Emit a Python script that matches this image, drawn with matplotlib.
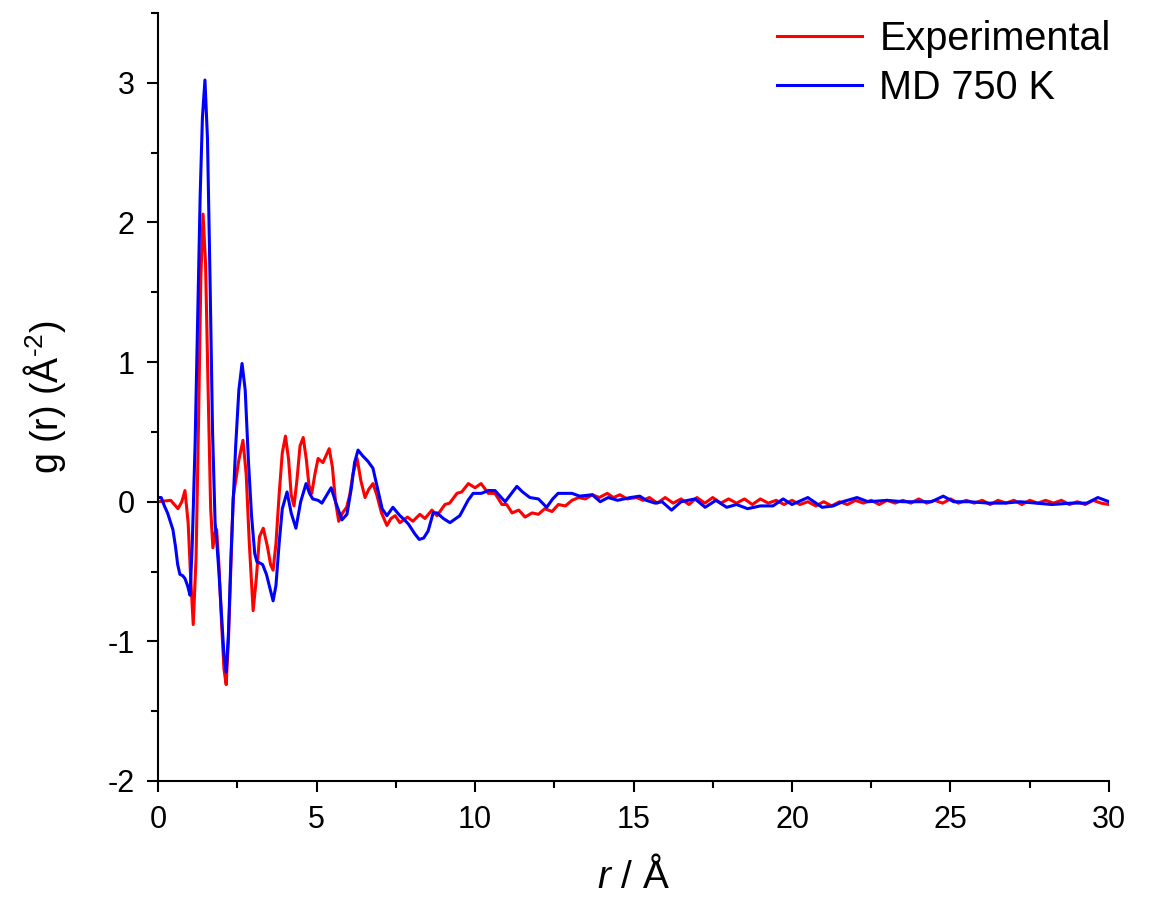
import numpy as np
import matplotlib
matplotlib.use("Agg")
import matplotlib.pyplot as plt
from matplotlib.ticker import MultipleLocator

plt.rcParams['font.family'] = ['Liberation Sans', 'DejaVu Sans']
plt.rcParams['mathtext.fontset'] = 'custom'
plt.rcParams['mathtext.rm'] = 'Liberation Sans'
plt.rcParams['mathtext.it'] = 'Liberation Sans:italic'
plt.rcParams['axes.unicode_minus'] = False

# experimental g(r)
r_exp = [0.0, 0.2, 0.4, 0.63, 0.75, 0.85, 0.95, 1.02, 1.11, 1.2, 1.28, 1.35, 1.42, 1.5,
         1.58, 1.66, 1.73, 1.8, 1.85, 1.92, 2.0, 2.08, 2.15, 2.22, 2.3, 2.37, 2.45, 2.55,
         2.68, 2.78, 2.88, 3.0, 3.1, 3.2, 3.32, 3.45, 3.55, 3.63, 3.72, 3.82, 3.92, 4.02,
         4.12, 4.2, 4.29, 4.38, 4.48, 4.58, 4.68, 4.76, 4.85, 4.95, 5.05, 5.2, 5.4, 5.5,
         5.6, 5.7, 5.82, 5.95, 6.05, 6.15, 6.28, 6.4, 6.53, 6.65, 6.78, 6.9, 7.05, 7.22,
         7.35, 7.48, 7.63, 7.87, 8.04, 8.26, 8.42, 8.64, 8.8, 9.05, 9.2, 9.43, 9.58, 9.79,
         10.0, 10.19, 10.42, 10.63, 10.85, 11.0, 11.17, 11.38, 11.58, 11.8, 12.0, 12.2,
         12.43, 12.63, 12.85, 13.06, 13.27, 13.48, 13.7, 13.92, 14.17, 14.37, 14.57, 14.8,
         15.1, 15.3, 15.5, 15.75, 16.0, 16.25, 16.5, 16.75, 17.0, 17.25, 17.5, 17.75,
         18.0, 18.25, 18.5, 18.75, 19.0, 19.25, 19.5, 19.75, 20.0, 20.25, 20.5, 20.75,
         21.0, 21.25, 21.5, 21.75, 22.0, 22.25, 22.5, 22.75, 23.0, 23.25, 23.5, 23.75,
         24.0, 24.25, 24.5, 24.75, 25.0, 25.25, 25.5, 25.75, 26.0, 26.25, 26.5, 26.75,
         27.0, 27.25, 27.5, 27.75, 28.0, 28.25, 28.5, 28.75, 29.0, 29.25, 29.5, 29.75, 30.0]
g_exp = [0.0, 0.005, 0.01, -0.05, 0.0, 0.08, -0.15, -0.5, -0.88, -0.4, 0.6, 1.6, 2.06, 1.7,
         0.8, -0.05, -0.33, -0.22, -0.2, -0.45, -0.85, -1.2, -1.31, -1.0, -0.45, 0.03, 0.15, 0.3,
         0.44, 0.2, -0.3, -0.78, -0.55, -0.25, -0.19, -0.32, -0.45, -0.49, -0.3, 0.05, 0.35, 0.47,
         0.3, 0.05, -0.03, 0.15, 0.4, 0.46, 0.3, 0.12, 0.06, 0.2, 0.31, 0.28, 0.38, 0.25,
         0.0, -0.14, -0.08, -0.04, 0.05, 0.2, 0.31, 0.15, 0.03, 0.09, 0.13, 0.05, -0.08, -0.17,
         -0.12, -0.1, -0.15, -0.11, -0.14, -0.09, -0.12, -0.06, -0.1, -0.02, -0.01, 0.06, 0.07, 0.13,
         0.1, 0.13, 0.06, 0.06, -0.02, -0.02, -0.08, -0.06, -0.11, -0.08, -0.09, -0.05,
         -0.07, -0.02, -0.03, 0.01, 0.03, 0.02, 0.05, 0.03, 0.06, 0.03, 0.05, 0.02,
         0.03, 0.01, 0.03, -0.01, 0.03, -0.01, 0.02, -0.02, 0.03, -0.01, 0.03, -0.01,
         0.02, -0.01, 0.02, -0.02, 0.02, -0.01, 0.01, -0.02, 0.01, -0.02, 0.0, -0.03,
         0.0, -0.03, 0.0, -0.02, 0.01, -0.01, 0.01, -0.02, 0.01, -0.01, 0.01, -0.01,
         0.02, -0.01, 0.01, -0.01, 0.02, -0.01, 0.01, -0.01, 0.01, -0.02, 0.01, -0.01,
         0.01, -0.02, 0.01, -0.01, 0.01, -0.01, 0.01, -0.02, 0.0, -0.02, 0.01, -0.01, -0.02]

# MD 750 K g(r)
r_md = [0.0, 0.1, 0.2, 0.3, 0.4, 0.47, 0.55, 0.62, 0.69, 0.78, 0.85, 0.93, 1.01, 1.08, 1.17,
        1.25, 1.33, 1.4, 1.48, 1.56, 1.64, 1.72, 1.8, 1.85, 1.92, 2.0, 2.08, 2.15, 2.22, 2.3,
        2.37, 2.45, 2.55, 2.65, 2.75, 2.85, 2.95, 3.05, 3.12, 3.22, 3.3, 3.42, 3.53, 3.63,
        3.72, 3.82, 3.92, 4.07, 4.2, 4.35, 4.5, 4.67, 4.78, 4.88, 5.05, 5.17, 5.3, 5.46, 5.6,
        5.8, 5.96, 6.1, 6.2, 6.31, 6.45, 6.62, 6.78, 6.92, 7.07, 7.22, 7.41, 7.63, 7.73, 7.9,
        8.1, 8.24, 8.38, 8.52, 8.68, 8.8, 9.0, 9.21, 9.52, 9.78, 9.94, 10.2, 10.42, 10.63,
        10.95, 11.15, 11.32, 11.5, 11.73, 12.0, 12.26, 12.45, 12.62, 13.06, 13.3, 13.7, 13.95,
        14.2, 14.5, 14.9, 15.2, 15.4, 15.68, 15.9, 16.2, 16.5, 16.94, 17.26, 17.6, 17.94,
        18.25, 18.6, 19.0, 19.4, 19.72, 20.0, 20.5, 20.95, 21.3, 21.6, 22.05, 22.4, 23.0,
        23.5, 24.0, 24.4, 24.77, 25.1, 25.6, 26.2, 26.7, 27.2, 27.7, 28.2, 28.8, 29.3, 29.65,
        30.0]
g_md = [0.03, 0.03, -0.03, -0.08, -0.15, -0.2, -0.32, -0.45, -0.52, -0.53, -0.55, -0.6, -0.67, -0.3, 0.42,
        1.3, 2.2, 2.75, 3.02, 2.6, 1.6, 0.5, -0.15, -0.28, -0.5, -0.8, -1.1, -1.22, -0.95, -0.4,
        0.0, 0.4, 0.8, 0.99, 0.8, 0.3, -0.1, -0.37, -0.43, -0.44, -0.45, -0.52, -0.62, -0.71,
        -0.6, -0.3, -0.05, 0.07, -0.08, -0.19, 0.0, 0.13, 0.06, 0.02, 0.01, -0.01, 0.04, 0.1, 0.0,
        -0.13, -0.09, 0.1, 0.28, 0.37, 0.33, 0.29, 0.24, 0.1, -0.05, -0.1, -0.04, -0.1, -0.12, -0.16,
        -0.23, -0.27, -0.26, -0.21, -0.08, -0.08, -0.12, -0.15, -0.1, 0.01, 0.06, 0.06, 0.08, 0.08,
        0.0, 0.06, 0.11, 0.07, 0.03, 0.02, -0.04, 0.02, 0.06, 0.06, 0.04, 0.05, 0.0,
        0.03, 0.01, 0.03, 0.04, 0.01, -0.01, 0.0, -0.06, 0.0, 0.02, -0.04, 0.01, -0.04,
        -0.02, -0.05, -0.03, -0.03, 0.02, -0.02, 0.03, -0.04, -0.03, 0.0, 0.03, 0.0, 0.01,
        0.0, 0.0, 0.0, 0.04, 0.0, 0.0, -0.01, -0.01, 0.0, -0.01, -0.02, -0.01, -0.01, 0.03,
        0.0]

fig = plt.figure(figsize=(11.51, 8.98), dpi=100)
ax = fig.add_axes([0.1373, 0.1303, 0.8262, 0.8552])

ax.plot(r_exp, g_exp, color='#ff0000', lw=2.2, solid_joinstyle='round', label='Experimental')
ax.plot(r_md, g_md, color='#0000ff', lw=2.2, solid_joinstyle='round', label='MD 750 K')

ax.set_xlim(0, 30)
ax.set_ylim(-2, 3.5)
ax.xaxis.set_major_locator(MultipleLocator(5))
ax.xaxis.set_minor_locator(MultipleLocator(2.5))
ax.yaxis.set_major_locator(MultipleLocator(1))
ax.yaxis.set_minor_locator(MultipleLocator(0.5))
ax.spines['top'].set_visible(False)
ax.spines['right'].set_visible(False)
for s in ['left', 'bottom']:
    ax.spines[s].set_linewidth(1.5)
ax.tick_params(which='major', direction='out', length=8, width=1.5, labelsize=22, pad=9)
ax.tick_params(which='minor', direction='out', length=5, width=1.5)

ax.set_xlabel('$\\it{r}$ / Å', fontsize=28, labelpad=16)
ax.set_ylabel('g (r) (Å$^{\\text{-2}}$)', fontsize=27, labelpad=28)

ax.legend(loc='upper right', bbox_to_anchor=(0.965, 0.978), bbox_transform=fig.transFigure,
          frameon=False, fontsize=28.5, handlelength=2.15, handletextpad=0.45,
          labelspacing=0.28, borderpad=0, borderaxespad=0)

fig.savefig('out.png', dpi=100)
